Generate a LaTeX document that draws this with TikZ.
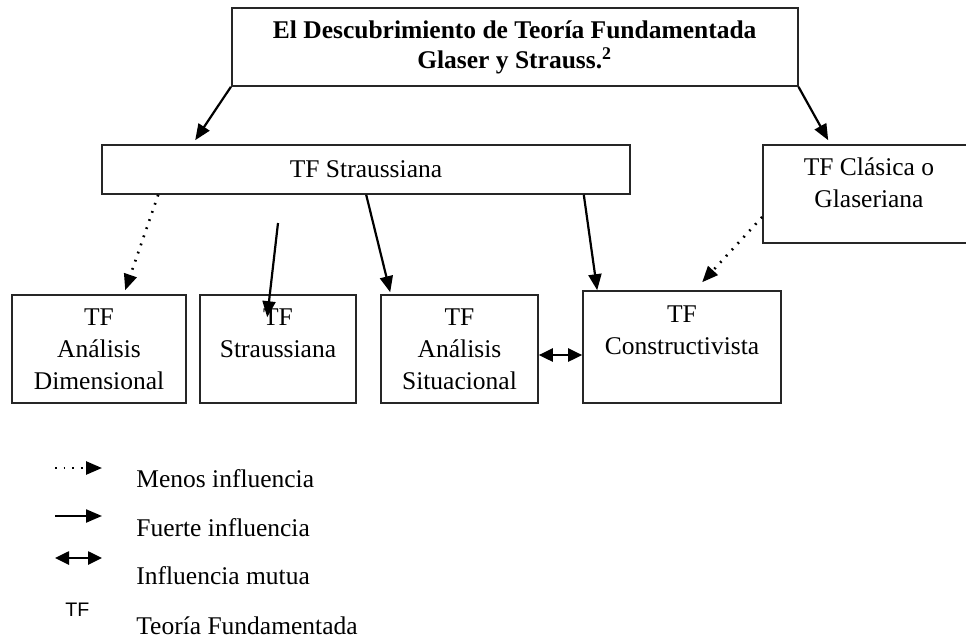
\documentclass[tikz,border=0pt]{standalone}
\usepackage{fontspec}
\setmainfont{Liberation Serif}
\newfontfamily\siglafont{Liberation Sans}
\usetikzlibrary{arrows.meta}

\begin{document}
\begin{tikzpicture}[x=0.5pt,y=-0.5pt]
\tikzstyle{caja}=[rectangle,draw=black!85,line width=0.8pt,align=center,inner sep=0pt,font=\fontsize{12.75}{16}\selectfont]
\tikzstyle{fuerte}=[line width=1.1pt,-{Triangle[length=8pt,width=6.5pt]}]
\tikzstyle{menos}=[line width=1.3pt,dash pattern=on 0.9pt off 3.4pt,-{Triangle[length=8pt,width=6.5pt]}]
\tikzstyle{mutua}=[line width=1.3pt,{Triangle[length=7pt,width=6.5pt]}-{Triangle[length=7pt,width=6.5pt]}]
\tikzstyle{leyenda}=[anchor=base west,inner sep=0pt,font=\fontsize{12.75}{15}\selectfont]
\clip (0,0) rectangle (966,639);
\node [caja,minimum width=283pt,minimum height=39pt,font=\fontsize{12.75}{15}\selectfont\bfseries] (titulo) at (514.7,47) {El Descubrimiento de Teoría Fundamentada\\Glaser y Strauss.\textsuperscript{2}};
\node [caja,minimum width=264pt,minimum height=24.5pt] (straussiana) at (366,169.5) {TF Straussiana};
\node [caja,minimum width=106pt,minimum height=49pt] (glaseriana) at (869,194) {TF Clásica o\\Glaseriana\\[-5pt]~};
\node [caja,minimum width=87pt,minimum height=54pt] (dimensional) at (99,349) {TF\\Análisis\\Dimensional};
\node [caja,minimum width=78pt,minimum height=54pt] (strauss2) at (278,349) {TF\\Straussiana\\~};
\node [caja,minimum width=78.5pt,minimum height=54pt] (situacional) at (459.5,349) {TF\\Análisis\\Situacional};
\node [caja,minimum width=99pt,minimum height=56pt] (constructivista) at (682,347) {TF\\Constructivista\\[1pt]~};
\coordinate (suelta) at (278,223);
\draw [fuerte] (titulo.south west) -- ([xshift=47pt,yshift=2pt]straussiana.north west);
\draw [fuerte] (titulo.south east) -- ([xshift=33pt,yshift=2pt]glaseriana.north west);
\draw [menos] ([xshift=28.5pt]straussiana.south west) -- ([xshift=57pt,yshift=2pt]dimensional.north west);
\draw [fuerte] (suelta) -- ([xshift=34pt,yshift=-11.5pt]strauss2.north west);
\draw [fuerte] ([xshift=132.5pt]straussiana.south west) -- ([xshift=5pt,yshift=1pt]situacional.north west);
\draw [fuerte] ([xshift=-23.5pt]straussiana.south east) -- ([xshift=7.5pt]constructivista.north west);
\draw [menos] ([yshift=-11.5pt]glaseriana.west) -- ([xshift=60pt,yshift=4pt]constructivista.north west);
\draw [mutua] ([yshift=-3pt]situacional.east) -- ([yshift=-3pt]situacional.east -| constructivista.west);
\node [leyenda] (lmenos) at (136,487) {Menos influencia};
\node [leyenda] (lfuerte) at (136,536) {Fuerte influencia};
\node [leyenda] (lmutua) at (136,584) {Influencia mutua};
\node [leyenda] (lteoria) at (136,634) {Teoría Fundamentada};
\node [leyenda,font=\siglafont\fontsize{9.8}{12}\selectfont] (sigla) at (65,616) {TF};
\coordinate (m1) at (55,468);
\coordinate (m2) at (102,468);
\coordinate (f1) at (55,516);
\coordinate (f2) at (102,516);
\coordinate (u1) at (55,558);
\coordinate (u2) at (102,558);
\draw [menos] (m1) -- (m2);
\draw [fuerte] (f1) -- (f2);
\draw [mutua] (u1) -- (u2);
\end{tikzpicture}
\end{document}
